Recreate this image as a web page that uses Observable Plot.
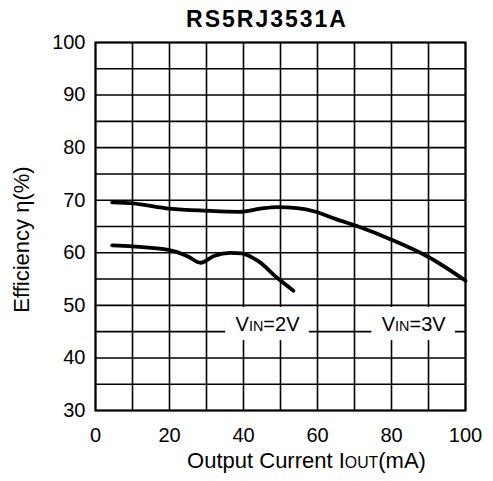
<!DOCTYPE html>
<html><head><meta charset="utf-8">
<script src="https://cdn.jsdelivr.net/npm/d3@7"></script>
<script src="https://cdn.jsdelivr.net/npm/@observablehq/plot@0.6"></script>
<style>
body{margin:0;background:#fff;}
#wrap{position:relative;width:493px;height:481px;font-family:"Liberation Sans",Arial,sans-serif;}
#title{position:absolute;left:0;top:8px;width:534px;text-align:center;font-weight:bold;font-size:23px;line-height:23px;letter-spacing:2px;color:#000;}
svg{display:block;}
</style></head><body>
<div id="wrap"><div id="title"></div></div>
<script>
const title = "RS5RJ3531A";
const xTicks = [0, 20, 40, 60, 80, 100];
const yTicks = [30, 40, 50, 60, 70, 80, 90, 100];
const xGrid = [0, 10, 20, 30, 40, 50, 60, 70, 80, 90, 100];
const yGrid = [30, 35, 40, 45, 50, 55, 60, 65, 70, 75, 80, 85, 90, 95, 100];
const xLabelParts = ["Output Current I", "OUT", "(mA)"];
const yLabel = "Efficiency η(%)";

const vin3X = [4.5, 10, 20, 30, 39, 44.6, 49, 54.5, 59.5, 65, 71, 80, 90, 100];
const vin3Y = [69.6, 69.4, 68.4, 68.0, 67.8, 68.4, 68.7, 68.5, 67.8, 66.4, 65.0, 62.5, 59.2, 54.7];
const vin2X = [4.5, 10, 20, 25, 28.4, 32, 36.5, 39.5, 44, 49, 53.5];
const vin2Y = [61.4, 61.2, 60.5, 59.3, 58.1, 59.4, 60.0, 59.9, 58.4, 55.3, 52.8];

const labelParts = [["V", "IN", "=2V"], ["V", "IN", "=3V"]];
const labelX = [46.5, 86];
const labelY = [46.4, 46.4];

document.getElementById("title").textContent = title;

const vin3 = vin3X.map((x, i) => ({x, y: vin3Y[i]}));
const vin2 = vin2X.map((x, i) => ({x, y: vin2Y[i]}));
const labels = labelParts.map((p, i) => ({text: p.join(""), x: labelX[i], y: labelY[i]}));
const xLabelText = xLabelParts.join("");

const font = '"Liberation Sans", Arial, sans-serif';

const chart = Plot.plot({
  width: 493,
  height: 481,
  marginLeft: 95,
  marginRight: 28,
  marginTop: 42,
  marginBottom: 71,
  style: {fontFamily: font, fontSize: "20px", color: "#000", background: "#fff"},
  x: {domain: [0, 100], ticks: xTicks, tickSize: 0, tickPadding: 17, label: null},
  y: {domain: [30, 100], ticks: yTicks, tickSize: 0, tickPadding: 10, label: null},
  marks: [
    Plot.ruleX(xGrid, {stroke: "#000", strokeWidth: 1.6}),
    Plot.ruleY(yGrid, {stroke: "#000", strokeWidth: 1.6}),
    Plot.rect(labels, {x1: d => d.x - 11.3, x2: d => d.x + 11.3, y1: d => d.y - 3.1, y2: d => d.y + 3.2, fill: "#fff"}),
    Plot.text(labels, {x: "x", y: "y", text: "text", fontSize: 20, fill: "#000"}),
    Plot.line(vin3, {x: "x", y: "y", curve: "monotone-x", stroke: "#000", strokeWidth: 3.8}),
    Plot.line(vin2, {x: "x", y: "y", curve: "monotone-x", stroke: "#000", strokeWidth: 3.8}),
    Plot.text([xLabelText], {frameAnchor: "bottom", textAnchor: "middle", dx: 26, dy: 57, fontSize: 22, fill: "#000"}),
    Plot.text([yLabel], {frameAnchor: "left", textAnchor: "middle", rotate: -90, dx: -74, dy: 13, fontSize: 22, fill: "#000"}),
    Plot.frame({stroke: "#000", strokeWidth: 2})
  ]
});

// smaller capitals for the subscript parts
d3.select(chart).selectAll("text").each(function() {
  const t = this.textContent;
  let parts = null;
  labelParts.forEach(p => { if (t === p.join("")) parts = p; });
  if (t === xLabelText) parts = xLabelParts;
  if (!parts) return;
  const el = d3.select(this);
  el.selectAll("*").remove();
  el.text(null);
  parts.forEach((p, i) => {
    const ts = el.append("tspan").text(p);
    if (i === 1) ts.attr("font-size", "0.72em");
  });
});

document.getElementById("wrap").appendChild(chart);
</script>
</body></html>
